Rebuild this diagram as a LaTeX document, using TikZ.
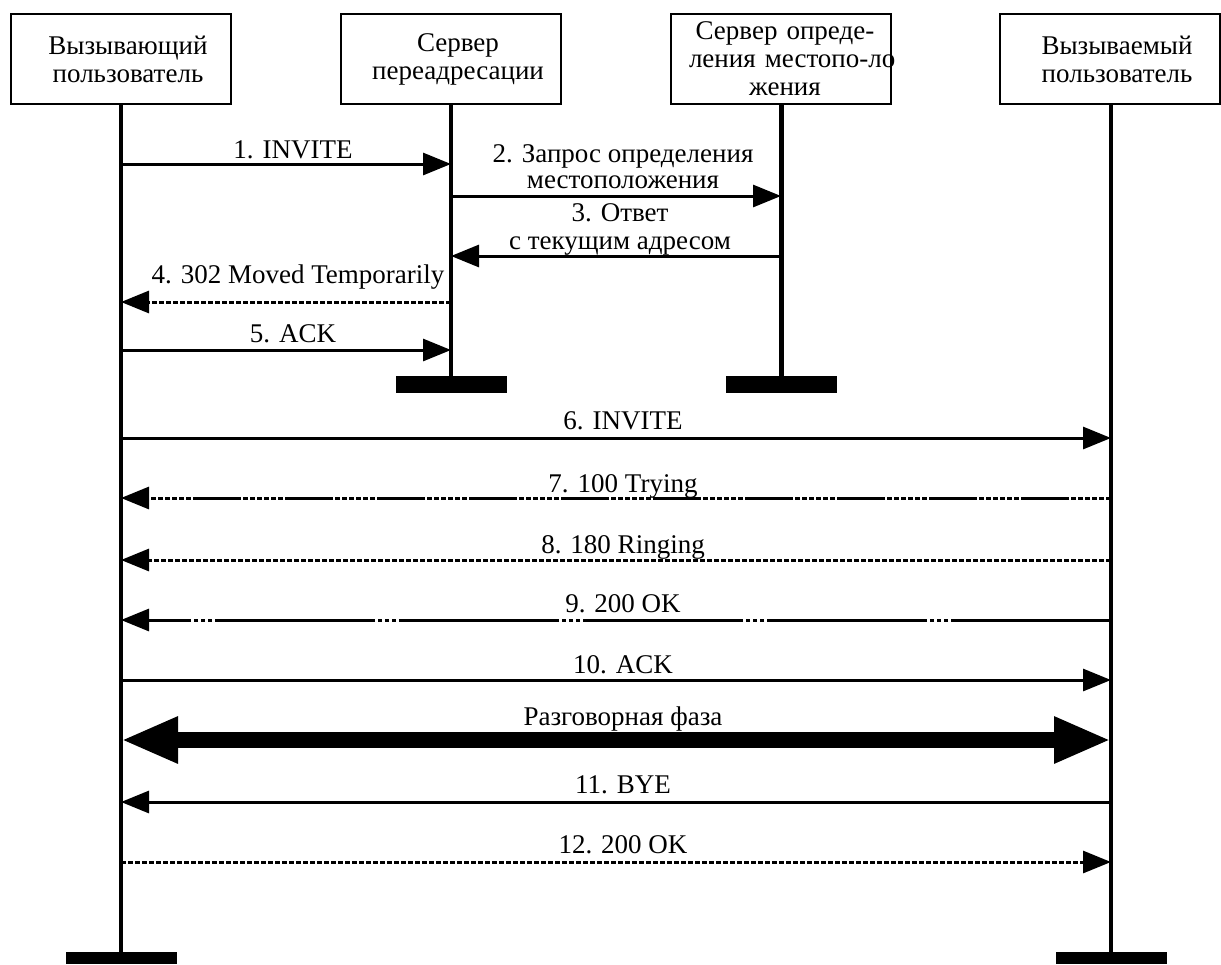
\documentclass[tikz,border=0pt]{standalone}
\usepackage{fontspec}
\setmainfont{Liberation Serif}
\usetikzlibrary{arrows.meta}
\begin{document}
\begin{tikzpicture}[x=0.5pt,y=-0.5pt,
  font=\fontsize{13.5}{14}\selectfont,
  hbox/.style={draw,line width=1.25pt,minimum width=110pt,minimum height=45pt,inner sep=0pt},
  htext/.style={align=center,inner sep=0pt},
  endbar/.style={fill=black,minimum width=55.5pt,minimum height=8.5pt,inner sep=0pt},
  life/.style={line width=1.75pt},
  msg/.style={line width=1.5pt,-{Triangle[length=14pt,width=11pt]}},
  phase/.style={line width=8pt,{Triangle[length=28.5pt,width=21.5pt]}-{Triangle[length=28.5pt,width=21.5pt]}},
  lbl/.style={anchor=base,inner sep=0pt},
  densedash/.style={dash pattern=on 2.5pt off 1pt},
  mixdash/.style={dash pattern=on 2.5pt off 1pt on 2.5pt off 1pt on 2.5pt off 1pt on 2.5pt off 1pt on 2.5pt off 1pt on 2.5pt off 1pt on 24pt off 1pt},
  gapdash/.style={dash pattern=on 80pt off 1.5pt on 2pt off 1.5pt on 2pt off 1.5pt on 2pt off 1.5pt},
]
\useasboundingbox[fill=white] (0,0) rectangle (1221,964);

% participants
\node[hbox] (b1) at (121,59) {};
\node[htext] (t1) at (128,59) {Вызывающий\\пользователь};
\node[hbox] (b2) at (451,59) {};
\node[htext] (t2) at (458,59) {Сервер\\переадресации};
\node[hbox] (b3) at (781,59) {};
\node[htext,text width=96pt] (t3) at (785,59) {\mbox{Сервер опреде-}\\\mbox{ления местопо-ло}\\жения};
\node[hbox] (b4) at (1110,59) {};
\node[htext] (t4) at (1117,59) {Вызываемый\\пользователь};

% end bars
\node[endbar,minimum height=6pt] (e1) at (121,958) {};
\node[endbar] (e2) at (451,384.5) {};
\node[endbar] (e3) at (781,384.5) {};
\node[endbar,minimum height=6pt] (e4) at (1111,958) {};

% lifelines
\draw[life] (e1 |- b1.south) -- (e1.north);
\draw[life,line width=2pt] (e2 |- b2.south) -- (e2.north);
\draw[life,line width=2.5pt] (e3 |- b3.south) -- (e3.north);
\draw[life] (e4 |- b4.south) -- (e4.north);

% message levels
\coordinate (y1) at (0,164);
\coordinate (y2) at (0,196);
\coordinate (y3) at (0,256);
\coordinate (y4) at (0,302);
\coordinate (y5) at (0,350);
\coordinate (y6) at (0,438);
\coordinate (y7) at (0,498);
\coordinate (y8) at (0,560);
\coordinate (y9) at (0,620);
\coordinate (y10) at (0,680);
\coordinate (yp) at (0,740);
\coordinate (y11) at (0,802);
\coordinate (y12) at (0,862);

% messages
\draw[msg] (e1 |- y1) -- (e2 |- y1);
\node[lbl] (l1) at (293,158) {1. INVITE};

\draw[msg] (e2 |- y2) -- (e3 |- y2);
\node[lbl] (l2a) at (623,162) {2. Запрос определения};
\node[lbl] (l2b) at (623,188) {местоположения};

\draw[msg] (e3 |- y3) -- (e2 |- y3);
\node[lbl] (l3a) at (620,221) {3. Ответ};
\node[lbl] (l3b) at (620,249) {с текущим адресом};

\draw[msg,densedash] (e2 |- y4) -- (e1 |- y4);
\node[lbl] (l4) at (298,283) {4. 302 Moved Temporarily};

\draw[msg] (e1 |- y5) -- (e2 |- y5);
\node[lbl] (l5) at (293,342) {5. ACK};

\draw[msg] (e1 |- y6) -- (e4 |- y6);
\node[lbl] (l6) at (623,429) {6. INVITE};

\draw[msg,mixdash] (e4 |- y7) -- (e1 |- y7);
\node[lbl] (l7) at (623,492) {7. 100 Trying};

\draw[msg,densedash] (e4 |- y8) -- (e1 |- y8);
\node[lbl] (l8) at (623,553) {8. 180 Ringing};

\draw[msg,gapdash] (e4 |- y9) -- (e1 |- y9);
\node[lbl] (l9) at (623,612) {9. 200 OK};

\draw[msg] (e1 |- y10) -- (e4 |- y10);
\node[lbl] (l10) at (623,673) {10. ACK};

\draw[phase] (e1 |- yp) -- (e4 |- yp);
\node[lbl] (lp) at (623,725) {Разговорная фаза};

\draw[msg] (e4 |- y11) -- (e1 |- y11);
\node[lbl] (l11) at (623,793) {11. BYE};

\draw[msg,densedash] (e1 |- y12) -- (e4 |- y12);
\node[lbl] (l12) at (623,853) {12. 200 OK};
\end{tikzpicture}
\end{document}
